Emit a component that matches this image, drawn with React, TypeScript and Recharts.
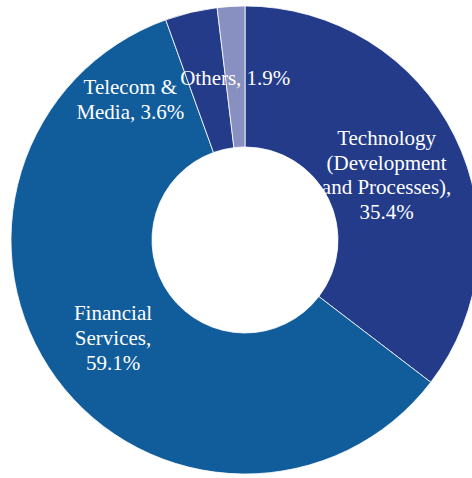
import { PieChart, Pie, Cell } from "recharts"

const SECTORS = ["Technology", "Financial Services", "Telecom & Media", "Others"]
const SHARES = [35.4, 59.1, 3.6, 1.9]
const LABEL_LINES = [
    ["Technology", "(Development", "and Processes),", "35.4%"],
    ["Financial", "Services,", "59.1%"],
    ["Telecom &", "Media, 3.6%"],
    ["Others, 1.9%"],
]

const COLORS = ["#233b89", "#115c9b", "#233b89", "#8890c2"]
// manual nudges, the way the labels were dragged in the original
const NUDGE: Record<string, [number, number]> = {
    Technology: [-5, 6],
    "Telecom & Media": [-77, 17],
}

const RAD = Math.PI / 180
const LINE_H = 24.6
const SERIF = "Liberation Serif"

function renderLabel(props: any) {
    const { cx, cy, midAngle, innerRadius, outerRadius, index, name } = props
    const r = (innerRadius + outerRadius) / 2
    const [dx, dy] = NUDGE[name] ?? [0, 0]
    const x = cx + r * Math.cos(-midAngle * RAD) + dx
    const y = cy + r * Math.sin(-midAngle * RAD) + dy
    const lines = LABEL_LINES[index]
    const top = y - ((lines.length - 1) * LINE_H) / 2 + 8.5
    return (
        <text
            key={`label-${index}`}
            x={x}
            y={top}
            fill="#ffffff"
            textAnchor="middle"
            fontFamily={SERIF}
            fontSize={21}
        >
            {lines.map((line, i) => (
                <tspan key={i} x={x} y={top + i * LINE_H}>
                    {line}
                </tspan>
            ))}
        </text>
    )
}

export default function App() {
    const data = SECTORS.map((name, i) => ({ name, value: SHARES[i] }))

    return (
        <div style={{ position: "absolute", left: 0, top: 0, width: 472, height: 478, background: "#ffffff" }}>
            <PieChart width={472} height={478} margin={{ top: 0, right: 0, bottom: 0, left: 0 }}>
                <Pie
                    data={data}
                    dataKey="value"
                    nameKey="name"
                    cx={245}
                    cy={240}
                    innerRadius={93}
                    outerRadius={234}
                    startAngle={90}
                    endAngle={-270}
                    stroke="#ffffff"
                    strokeWidth={0.8}
                    label={renderLabel}
                    labelLine={false}
                    isAnimationActive={false}
                >
                    {data.map((entry, index) => (
                        <Cell key={`cell-${index}`} fill={COLORS[index]} />
                    ))}
                </Pie>
            </PieChart>
        </div>
    )
}
